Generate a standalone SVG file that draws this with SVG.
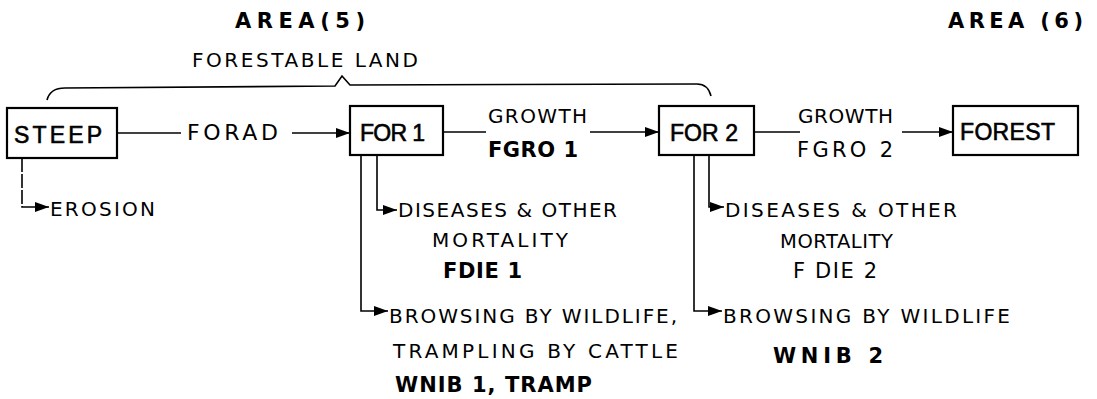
<svg xmlns="http://www.w3.org/2000/svg" width="1097" height="399" viewBox="0 0 1097 399">
<style>
text{font-family:"DejaVu Sans","Liberation Sans",Arial,sans-serif;fill:#000;}
.t{font-size:20px;}
.b{font-size:21px;font-weight:bold;}
.n{font-family:"Liberation Sans",Arial,sans-serif;font-size:23px;stroke:#000;stroke-width:0.6;}
.box{fill:#fff;stroke:#000;stroke-width:2.2;}
.ln{fill:none;stroke:#000;stroke-width:1.6;}
</style>
<defs>
<marker id="ah" markerUnits="userSpaceOnUse" markerWidth="16" markerHeight="12" refX="14" refY="6" orient="auto">
<path d="M0,1 L14,6 L0,11 z" fill="#000"/>
</marker>
</defs>
<rect width="1097" height="399" fill="#fff"/>
<g id="headers">
<text class="b" x="235" y="28" textLength="130" lengthAdjust="spacing">AREA(5)</text>
<text class="b" x="948" y="28" textLength="135" lengthAdjust="spacing">AREA (6)</text>
<text class="t" x="192" y="67" textLength="226" lengthAdjust="spacing">FORESTABLE LAND</text>
<path class="ln" d="M47,100 Q50,88 65,88 L335,86 L342,76 L350,85 L697,84 Q708,84 711,96"/>
</g>
<g id="connectors">
<path class="ln" d="M117,133 L181,133"/>
<path class="ln" d="M292,133 L350,133" marker-end="url(#ah)"/>
<path class="ln" d="M443,132 L486,132"/>
<path class="ln" d="M590,132 L659,132" marker-end="url(#ah)"/>
<path class="ln" d="M754,132 L800,132"/>
<path class="ln" d="M902,132 L953,132" marker-end="url(#ah)"/>
<path class="ln" d="M22,158 L22,207 L49,207" stroke-dasharray="14 2" marker-end="url(#ah)"/>
<path class="ln" d="M377,155 L377,210 L397,210" marker-end="url(#ah)"/>
<path class="ln" d="M361,155 L361,311 L388,311" marker-end="url(#ah)"/>
<path class="ln" d="M709,155 L709,207 L724,207" marker-end="url(#ah)"/>
<path class="ln" d="M694,155 L694,311 L722,311" marker-end="url(#ah)"/>
</g>
<g id="labels">
<text class="t" x="187" y="140" textLength="91" lengthAdjust="spacing" style="font-size:22px">FORAD</text>
<text class="t" x="488" y="123" textLength="99" lengthAdjust="spacing">GROWTH</text>
<text class="b" x="488" y="157" textLength="90" lengthAdjust="spacing">FGRO 1</text>
<text class="t" x="798" y="123" textLength="95" lengthAdjust="spacing">GROWTH</text>
<text class="t" x="797" y="157" textLength="96" lengthAdjust="spacing" style="font-size:21px">FGRO 2</text>
<text class="t" x="50" y="216" textLength="105" lengthAdjust="spacing">EROSION</text>
<text class="t" x="398" y="217" textLength="219" lengthAdjust="spacing">DISEASES &amp; OTHER</text>
<text class="t" x="432" y="247" textLength="136" lengthAdjust="spacing">MORTALITY</text>
<text class="b" x="443" y="278" textLength="79" lengthAdjust="spacing">FDIE 1</text>
<text class="t" x="389" y="323" textLength="288" lengthAdjust="spacing">BROWSING BY WILDLIFE,</text>
<text class="t" x="393" y="358" textLength="285" lengthAdjust="spacing">TRAMPLING BY CATTLE</text>
<text class="b" x="395" y="392" textLength="197" lengthAdjust="spacing">WNIB 1, TRAMP</text>
<text class="t" x="725" y="217" textLength="232" lengthAdjust="spacing">DISEASES &amp; OTHER</text>
<text class="t" x="780" y="248" textLength="113" lengthAdjust="spacing" style="font-size:19.5px">MORTALITY</text>
<text class="t" x="793" y="278" textLength="84" lengthAdjust="spacing" style="font-size:21px">F DIE 2</text>
<text class="t" x="723" y="323" textLength="287" lengthAdjust="spacing">BROWSING BY WILDLIFE</text>
<text class="b" x="773" y="363" textLength="110" lengthAdjust="spacing">WNIB 2</text>
</g>
<g id="node-steep">
<rect class="box" x="7" y="108" width="110" height="50"/>
<text class="n" x="14" y="143" textLength="88" lengthAdjust="spacing">STEEP</text>
</g>
<g id="node-for1">
<rect class="box" x="350" y="106" width="93" height="49"/>
<text class="n" x="360" y="141" textLength="65" lengthAdjust="spacing">FOR 1</text>
</g>
<g id="node-for2">
<rect class="box" x="659" y="106" width="95" height="49"/>
<text class="n" x="670" y="141" textLength="68" lengthAdjust="spacing">FOR 2</text>
</g>
<g id="node-forest">
<rect class="box" x="953" y="106" width="125" height="49"/>
<text class="n" x="960" y="140" textLength="95" lengthAdjust="spacing">FOREST</text>
</g>
</svg>
